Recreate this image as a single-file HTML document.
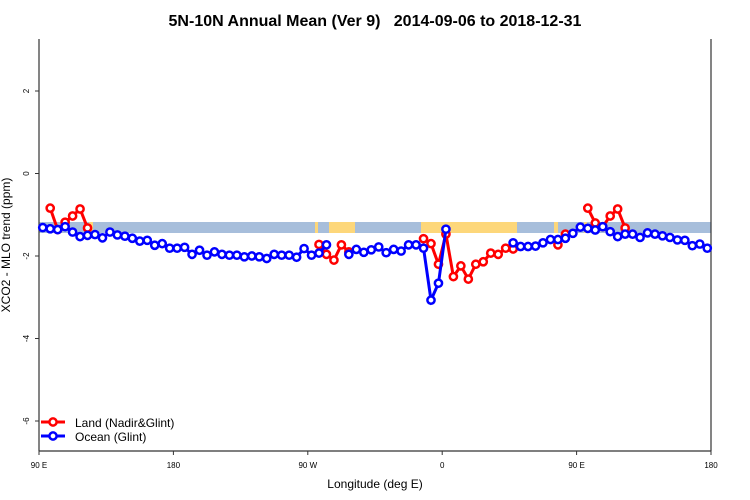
<!DOCTYPE html>
<html><head><meta charset="utf-8"><style>
body{margin:0;background:#fff}
svg{display:block;font-family:"Liberation Sans",sans-serif}
</style></head><body>
<svg id="chart" width="750" height="500" viewBox="0 0 750 500">
<rect width="750" height="500" fill="#fff"/>
<text x="375" y="26" text-anchor="middle" font-size="16" font-weight="bold">5N-10N Annual Mean (Ver 9)&#160;&#160; 2014-09-06 to 2018-12-31</text>
<g id="strip"></g>
<g id="axes"></g>
<g id="series"></g>
<g>
 <g>
  <line x1="41" y1="422" x2="65" y2="422" stroke="#f00" stroke-width="3"/>
  <circle cx="53" cy="422" r="3.6" fill="#fff" stroke="#f00" stroke-width="2.5"/>
  <text x="75" y="427" font-size="12">Land (Nadir&amp;Glint)</text>
 </g>
 <g>
  <line x1="41" y1="436" x2="65" y2="436" stroke="#00f" stroke-width="3"/>
  <circle cx="53" cy="436" r="3.6" fill="#fff" stroke="#00f" stroke-width="2.5"/>
  <text x="75" y="441" font-size="12">Ocean (Glint)</text>
 </g>
</g>
<text x="375" y="488" text-anchor="middle" font-size="12">Longitude (deg E)</text>
<text transform="translate(10,245) rotate(-90)" text-anchor="middle" font-size="12">XCO2 - MLO trend (ppm)</text>
</svg>
<script>
const NS="http://www.w3.org/2000/svg";
const lonStart=92.5, lonStep=5;
const oceanPx=[227.7,228.7,229.7,226.7,232,236.7,235.3,234.7,237.7,232,235,236.3,238.3,241,240.3,245.3,243.7,248.3,248.3,247.3,254.3,250.3,255,252,254.3,255.3,255.3,256.7,256,257,258.3,254.3,255.3,255.3,257.3,248.7,255.3,253.3,245,null,null,254.3,249.3,252.3,250,247,252.7,249.3,251,245,245,248.3,300,283.3,229.3,null,null,null,null,null,null,null,null,243,246.7,246.7,246,242.7,239.3,239.3,238.3,233.3,227.3,228.3,230,226.7,231.7,236.7,234.3,234,237.3,232.7,234.3,235.7,237.3,240,240.3,245.7,244,248.3];
const toVal=p=>p==null?null:+((173.5-p)/41.25).toFixed(2);
const ocean=oceanPx.map(toVal);
const land=new Array(90).fill(null);
const landPx={1:208.3,2:229.7,3:222,4:216,5:209,6:228,37:244.3,38:254.3,39:260,40:245,41:251.7,51:238.7,52:243.7,53:264.3,54:234,55:276.7,56:266,57:279.3,58:264.3,59:261.7,60:253.3,61:254.3,62:248.3,63:249,69:245,70:234.3,73:208.3,74:223,75:226.7,76:216,77:209,78:228};
for(const k in landPx) land[k]=toVal(landPx[k]);
const xTicks=[90,180,270,360,450,540];
const xTickLabels=["90 E","180","90 W","0","90 E","180"];
const yTicks=[2,0,-2,-4,-6];
const X=l=>39+(l-90)*(672/450);
const Y=v=>173.5-v*41.25;
function el(t,a,p){const e=document.createElementNS(NS,t);for(const k in a)e.setAttribute(k,a[k]);(p||document.getElementById('chart')).appendChild(e);return e;}
const strip=document.getElementById('strip');
let s=el('rect',{x:39,y:222,width:672,height:11,fill:'#a7bedb'},strip);


const lands=[[89,4],[315,3],[329,26],[421,96],[554,4],[584,3]];
lands.forEach(r=>{const e=el('rect',{x:r[0],y:222,width:r[1],height:11,fill:'#fdd77a'},strip);

});
const ax=document.getElementById('axes');
el('line',{x1:39,y1:39,x2:39,y2:451,stroke:'#333','stroke-width':1.2},ax);
el('line',{x1:39,y1:451,x2:711,y2:451,stroke:'#333','stroke-width':1.2},ax);
el('line',{x1:711,y1:39,x2:711,y2:451,stroke:'#333','stroke-width':1.2},ax);
xTicks.forEach((t,i)=>{el('line',{x1:X(t),y1:451,x2:X(t),y2:455,stroke:'#333'},ax);
const tx=el('text',{x:X(t),y:468,'text-anchor':'middle','font-size':8},ax);tx.textContent=xTickLabels[i];

});
yTicks.forEach(t=>{el('line',{x1:35,y1:Y(t),x2:39,y2:Y(t),stroke:'#333'},ax);
const tx=el('text',{transform:`translate(29,${Y(t)}) rotate(-90)`,'text-anchor':'middle','font-size':8},ax);tx.textContent=t;

});
const sg=document.getElementById('series');
function draw(data,color,name){
 let segs=[],cur=[];
 data.forEach((v,i)=>{if(v==null){if(cur.length)segs.push(cur);cur=[];}else cur.push([X(lonStart+lonStep*i),Y(v)]);});
 if(cur.length)segs.push(cur);
 segs.forEach(sgm=>{const p=el('polyline',{points:sgm.map(q=>q.join(',')).join(' '),fill:'none',stroke:color,'stroke-width':3},sg);
 
 });
 data.forEach((v,i)=>{if(v==null)return;const c=el('circle',{cx:X(lonStart+lonStep*i),cy:Y(v),r:3.6,fill:'#fff',stroke:color,'stroke-width':2.5},sg);
 
 });
}
draw(land,'#f00','land');
draw(ocean,'#00f','ocean');
</script>
</body></html>
